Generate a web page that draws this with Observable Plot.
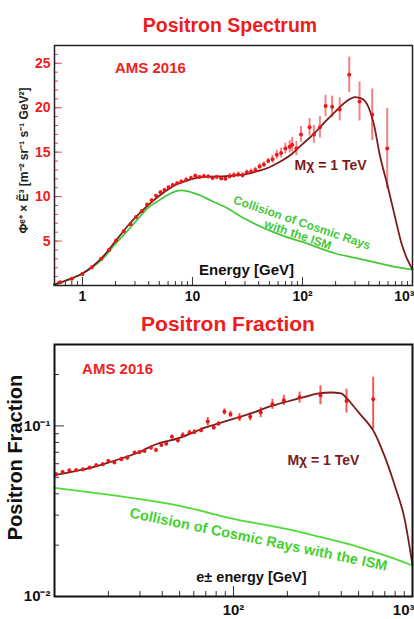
<!DOCTYPE html>
<html><head><meta charset="utf-8">
<script src="https://cdn.jsdelivr.net/npm/d3@7"></script>
<script src="https://cdn.jsdelivr.net/npm/@observablehq/plot@0.6"></script>
<style>
body{margin:0;background:#fff;font-family:"Liberation Sans",Arial,sans-serif;}
#wrap{position:relative;width:414px;height:619px;overflow:hidden;background:#fff}
.title{position:absolute;left:0;text-align:center;color:#ee1c1c;font-weight:bold;line-height:20px;white-space:nowrap}
.plot{position:absolute;left:0}
</style></head><body>
<div id="wrap">
<div id="p1" class="plot" style="top:0px"></div>
<div id="p2" class="plot" style="top:310px"></div>
<div class="title" style="top:15px;width:460px;font-size:19.5px">Positron Spectrum</div>
<div class="title" style="top:314px;width:456px;font-size:21px">Positron Fraction</div>
</div>
<script>
// ---------- Positron spectrum (top) ----------
const specE = [0.63,0.8,1.0,1.22,1.48,1.74,2.02,2.37,2.73,3.07,3.46,3.87,4.26,4.67,5.12,5.56,6.06,6.62,7.25,7.92,8.77,9.7,10.6,11.6,12.7,13.9,15.2,16.6,18.2,19.9,21.8,23.8,26.1,28.5,31.2,34.1,37.3,40.8,44.6,48.8,53.4,58.4,63.9,69.9,76.5,80.6,88,97,116,127,144,162,186,218,266,330,430,589];
const specV = [0.37,0.75,1.3,2.06,3.0,4.0,5.06,6.1,6.9,7.7,8.35,9.1,9.6,10.1,10.5,10.75,11.05,11.3,11.5,11.7,11.9,12.1,12.36,12.2,12.3,12.25,12.1,12.2,12.05,12.0,12.3,12.4,12.5,12.4,12.7,12.8,13.0,13.4,13.6,14.0,14.2,14.7,14.9,15.4,15.6,15.84,15.4,17.0,17.8,17.0,17.8,20.2,20.1,19.8,23.7,20.7,19.2,15.4];
const specErr = [0.1,0.1,0.1,0.1,0.1,0.1,0.1,0.1,0.1,0.1,0.15,0.15,0.15,0.15,0.15,0.15,0.15,0.15,0.15,0.15,0.2,0.2,0.2,0.2,0.2,0.2,0.2,0.2,0.2,0.2,0.3,0.3,0.3,0.3,0.3,0.3,0.3,0.3,0.3,0.3,0.45,0.5,0.55,0.6,0.7,0.8,0.8,0.9,1.0,1.0,1.2,1.2,1.2,1.3,2.0,2.2,2.9,4.5];
const specBgE = [0.55,0.63,0.8,1,1.25,1.5,2,2.5,3,4,5,6,7,8,10,12,15,20,30,50,70,100,200,300,500,700,1000];
const specBgV = [0.05,0.3,0.8,1.35,2.1,2.9,4.7,6.0,7.1,8.8,9.6,10.2,10.6,10.7,10.45,10.1,9.5,8.8,7.5,6.2,5.5,4.9,3.6,3.1,2.5,2.1,1.8];
const specTotE = [0.55,0.63,0.8,1,1.25,1.5,2,2.5,3,4,5,6,7,8,10,12,15,20,25,30,40,50,60,80,100,130,160,200,250,300,350,400,450,500,600,700,800,900,1000];
const specTotV = [0.1,0.35,0.8,1.35,2.2,3.1,5.0,6.5,7.6,9.1,10.1,10.8,11.3,11.6,12.0,12.2,12.25,12.3,12.4,12.5,12.9,13.3,13.8,14.8,15.9,17.2,18.4,19.6,20.7,21.2,21.0,20.0,17.9,14.9,11.0,7.5,4.6,2.9,1.8];
const specXTicks = [1,10,100,1000];
const specXTickLabels = ["1","10","10²","10³"];
const specXMinor = [0.6,0.7,0.8,0.9,2,3,4,5,6,7,8,9,20,30,40,50,60,70,80,90,200,300,400,500,600,700,800,900];
const specYTicks = [5,10,15,20,25];
const specYMinor = d3.range(1,27);

// ---------- Positron fraction (bottom) ----------
const fracE = [10.2,11.1,12.1,13.2,14.4,15.7,17.1,18.6,20.0,21.6,23.6,25.5,28.0,29.8,31.8,34.6,36.9,39.5,42.1,45.3,48.9,52.1,56.8,60.5,65.9,71.8,77.6,82.4,89.0,96.2,108,124,142,165,191,234,306,428,603];
const fracV = [0.052,0.0536,0.0548,0.055,0.0556,0.0569,0.0587,0.0595,0.0623,0.061,0.0637,0.065,0.0696,0.070,0.0712,0.0745,0.0722,0.0774,0.0787,0.0865,0.0824,0.0882,0.0913,0.0922,0.0943,0.106,0.0977,0.103,0.121,0.117,0.112,0.113,0.1197,0.134,0.1416,0.147,0.151,0.140,0.1435];
const fracLo = [0.0508,0.0524,0.0536,0.0538,0.0544,0.0557,0.0575,0.0583,0.0611,0.0598,0.0619,0.0632,0.0678,0.0682,0.0694,0.0727,0.0704,0.0756,0.0769,0.0847,0.0794,0.0852,0.0883,0.0892,0.0913,0.100,0.0947,0.100,0.116,0.112,0.106,0.107,0.112,0.125,0.132,0.136,0.133,0.119,0.0955];
const fracHi = [0.0532,0.0548,0.056,0.0562,0.0568,0.0581,0.0599,0.0607,0.0635,0.0622,0.0655,0.0668,0.0714,0.0718,0.073,0.0763,0.074,0.0792,0.0805,0.0883,0.0854,0.0912,0.0943,0.0952,0.0973,0.112,0.1007,0.106,0.126,0.122,0.118,0.119,0.128,0.143,0.151,0.158,0.172,0.164,0.193];
const fracBgE = [10,20,30,50,100,200,300,500,700,1000];
const fracBgV = [0.0433,0.0395,0.0372,0.0340,0.0285,0.0248,0.0224,0.0195,0.0174,0.0152];
const fracTotE = [10,15,20,30,36,50,70,100,130,160,200,250,300,350,400,430,470,500,550,600,700,800,900,1000];
const fracTotV = [0.0515,0.056,0.061,0.0705,0.0773,0.085,0.098,0.11,0.12,0.13,0.139,0.148,0.155,0.157,0.155,0.145,0.13,0.12,0.107,0.095,0.066,0.044,0.029,0.0153];
const fracXTicks = [100,1000];
const fracXTickLabels = ["10²","10³"];
const fracXMinor = [20,30,40,50,60,70,80,90,200,300,400,500,600,700,800,900];
const fracYTicks = [0.01,0.1];
const fracYTickLabels = ["10⁻²","10⁻¹"];
const fracYMinor = [0.02,0.03,0.04,0.05,0.06,0.07,0.08,0.09,0.2,0.3];

const RED = "#e81818", DARK = "#7a1c1c", GREEN = "#45c83a", FONT = "Liberation Sans, Arial, sans-serif";
const lab = (ticks, labels) => d => labels[ticks.indexOf(d)];
const last = a => a[a.length - 1];

// ----- top plot -----
const W = 414;
const H1 = 310, mT1 = 45, mB1 = 25, mL = 54, mR = 2;
const fh1 = H1 - mT1 - mB1, fw = W - mL - mR;
const specIdx = d3.range(specE.length);
const p1 = Plot.plot({
  width: W, height: H1, marginLeft: mL, marginRight: mR, marginTop: mT1, marginBottom: mB1,
  style: {fontFamily: FONT, background: "transparent", overflow: "visible"},
  x: {type: "log", domain: [0.557, 1000], axis: null},
  y: {domain: [0, 27], axis: null},
  marks: [
    Plot.tickY(specYMinor, {y: d => d, stroke: "#f04848", insetRight: fw - 4, strokeWidth: 1}),
    Plot.tickY(specYTicks, {y: d => d, stroke: "#f04848", insetRight: fw - 8, strokeWidth: 1}),
    Plot.tickX(specXMinor, {x: d => d, stroke: "#333", insetTop: fh1 - 4}),
    Plot.tickX(specXTicks, {x: d => d, stroke: "#333", insetTop: fh1 - 8}),
    Plot.axisY({ticks: specYTicks, tickSize: 0, tickPadding: 4, fontSize: 14, fontWeight: "bold", fill: "#ee2020", label: null}),
    Plot.axisX({ticks: specXTicks.slice(0, -1), tickFormat: lab(specXTicks, specXTickLabels), tickSize: 0, tickPadding: 6, fontSize: 14, fontWeight: "bold", fill: "#111", label: null}),
    Plot.axisX({ticks: [last(specXTicks)], tickFormat: lab(specXTicks, specXTickLabels), tickSize: 0, tickPadding: 6, textAnchor: "end", dx: 2, fontSize: 14, fontWeight: "bold", fill: "#111", label: null}),
    Plot.line(specBgE.map((e, i) => [e, specBgV[i]]), {x: "0", y: "1", stroke: GREEN, strokeWidth: 1.8, curve: "monotone-x"}),
    Plot.ruleX(specIdx, {x: i => specE[i], y1: i => specV[i] - specErr[i], y2: i => specV[i] + specErr[i], stroke: "#ee3030", strokeOpacity: 0.6, strokeWidth: 2}),
    Plot.line(specTotE.map((e, i) => [e, specTotV[i]]), {x: "0", y: "1", stroke: DARK, strokeWidth: 1.8, curve: "monotone-x"}),
    Plot.dot(specIdx, {x: i => specE[i], y: i => specV[i], r: 2, fill: RED}),
    Plot.text(["AMS 2016"], {x: 4.15, y: 24.4, fill: "#ee2222", fontSize: 15, fontWeight: "bold"}),
    Plot.text(["Mχ = 1 TeV"], {x: 180, y: 13.5, fill: DARK, fontSize: 14, fontWeight: "bold"}),
    Plot.text(["Collision of Cosmic Rays\nwith the ISM"], {x: 95, y: 6.4, rotate: 18.8, fill: GREEN, fontSize: 12, fontWeight: "bold", lineHeight: 1.05}),
    Plot.text(["Energy [GeV]"], {x: 31, y: 1.7, fill: "#111", fontSize: 15, fontWeight: "bold"}),
    Plot.text(["Φᵉ⁺ × Ẽ³ [m⁻² sr⁻¹ s⁻¹ GeV²]"], {frameAnchor: "left", textAnchor: "middle", dx: -30, dy: -5, rotate: -90, fill: "#222", fontSize: 12, fontWeight: "bold"}),
    Plot.frame({stroke: "#222", strokeWidth: 1.5})
  ]
});
document.getElementById("p1").append(p1);

// ----- bottom plot -----
const H2 = 309, mT2 = 34, mB2 = 23;
const fh2 = H2 - mT2 - mB2;
const fracIdx = d3.range(fracE.length);
const p2 = Plot.plot({
  width: W, height: H2, marginLeft: mL, marginRight: mR, marginTop: mT2, marginBottom: mB2,
  style: {fontFamily: FONT, background: "transparent", overflow: "visible"},
  x: {type: "log", domain: [10, 1000], axis: null},
  y: {type: "log", domain: [0.01, 0.3], axis: null},
  marks: [
    Plot.tickY(fracYMinor, {y: d => d, stroke: "#333", insetRight: fw - 5}),
    Plot.tickY(fracYTicks, {y: d => d, stroke: "#333", insetRight: fw - 10}),
    Plot.tickX(fracXMinor, {x: d => d, stroke: "#333", insetTop: fh2 - 5}),
    Plot.tickX(fracXTicks, {x: d => d, stroke: "#333", insetTop: fh2 - 10}),
    Plot.axisY({ticks: fracYTicks, tickFormat: lab(fracYTicks, fracYTickLabels), tickSize: 0, tickPadding: 4, fontSize: 15, fontWeight: "bold", fill: "#111", label: null}),
    Plot.axisX({ticks: fracXTicks.slice(0, -1), tickFormat: lab(fracXTicks, fracXTickLabels), tickSize: 0, tickPadding: 8, fontSize: 15, fontWeight: "bold", fill: "#111", label: null}),
    Plot.axisX({ticks: [last(fracXTicks)], tickFormat: lab(fracXTicks, fracXTickLabels), tickSize: 0, tickPadding: 8, textAnchor: "end", dx: 2, fontSize: 15, fontWeight: "bold", fill: "#111", label: null}),
    Plot.line(fracBgE.map((e, i) => [e, fracBgV[i]]), {x: "0", y: "1", stroke: "#4fdc36", strokeWidth: 1.8, curve: "monotone-x"}),
    Plot.ruleX(fracIdx, {x: i => fracE[i], y1: i => fracLo[i], y2: i => fracHi[i], stroke: "#ee2020", strokeOpacity: 0.75, strokeWidth: 2}),
    Plot.line(fracTotE.map((e, i) => [e, fracTotV[i]]), {x: "0", y: "1", stroke: DARK, strokeWidth: 1.8, curve: "monotone-x"}),
    Plot.dot(fracIdx, {x: i => fracE[i], y: i => fracV[i], r: 2, fill: RED}),
    Plot.text(["AMS 2016"], {x: 22.5, y: 0.216, fill: "#ee2222", fontSize: 15, fontWeight: "bold"}),
    Plot.text(["Mχ = 1 TeV"], {x: 318, y: 0.063, fill: DARK, fontSize: 14, fontWeight: "bold"}),
    Plot.text(["Collision of Cosmic Rays with the ISM"], {x: 138, y: 0.0216, rotate: 11.7, fill: "#44d030", fontSize: 14.5, fontWeight: "bold"}),
    Plot.text(["e± energy [GeV]"], {x: 126, y: 0.0129, fill: "#111", fontSize: 14.5, fontWeight: "bold"}),
    Plot.text(["Positron Fraction"], {frameAnchor: "left", textAnchor: "middle", dx: -39, dy: -13, rotate: -90, fill: "#111", fontSize: 20, fontWeight: "bold"}),
    Plot.frame({stroke: "#111", strokeWidth: 2})
  ]
});
document.getElementById("p2").append(p2);
</script>
</body></html>
